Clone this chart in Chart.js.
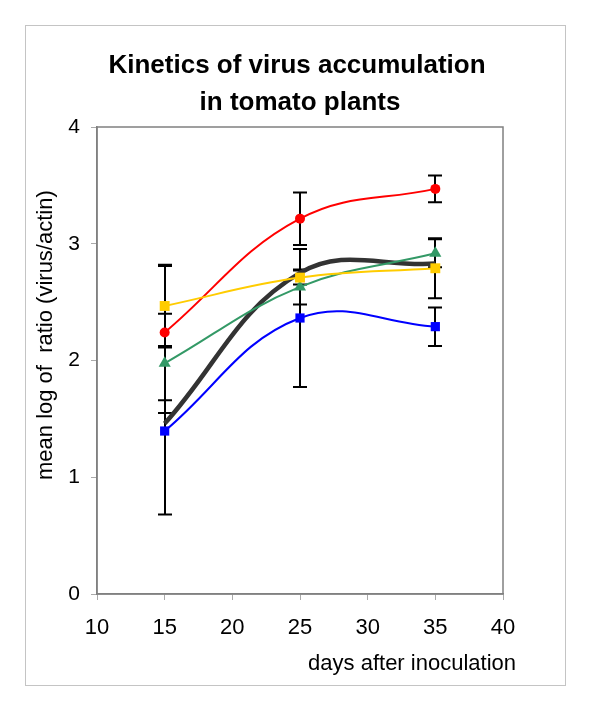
<!DOCTYPE html>
<html>
<head>
<meta charset="utf-8">
<title>Kinetics of virus accumulation</title>
<script src="https://cdn.jsdelivr.net/npm/chart.js@4.4.1/dist/chart.umd.min.js"></script>
<style>
  html, body { margin: 0; padding: 0; background: #fff; }
  #chart { display: block; }
</style>
</head>
<body>
<canvas id="chart" width="600" height="708"></canvas>
<script>
// values
const days = [15, 25, 35];
const xTicks = [10, 15, 20, 25, 30, 35, 40];
const yTicks = [0, 1, 2, 3, 4];

const redVals = [2.24, 3.215, 3.47];
const redErr = [0.58, 0.225, 0.115];
const yellowVals = [2.467, 2.71, 2.79];
const yellowErr = [0.343, 0.06, 0.257];
const greenVals = [1.976, 2.63, 2.918];
const greenErr = [0.425, 0.15, 0.12];
const blueVals = [1.396, 2.364, 2.29];
const blueErr = [0.716, 0.59, 0.165];
const meanVals = [1.46, 2.75, 2.83];

const titleLines = ['Kinetics of virus accumulation', 'in tomato plants'];
const yTitle = 'mean log of  ratio (virus/actin)';
const xTitle = 'days after inoculation';

const FONT = '"Liberation Sans", Arial, sans-serif';

function toPoints(vals) {
    return days.map((d, i) => ({ x: d, y: vals[i] }));
}

const chartDecor = {
    id: 'chartDecor',
    beforeDraw(chart) {
        const ctx = chart.ctx;
        ctx.save();
        ctx.fillStyle = '#fff';
        ctx.fillRect(0, 0, chart.width, chart.height);
        ctx.strokeStyle = '#c4c4c4';
        ctx.lineWidth = 1;
        ctx.strokeRect(25.5, 25.5, 540, 660); // outer frame
        ctx.restore();
    },
    beforeDatasetsDraw(chart) {
        const ctx = chart.ctx;
        const a = chart.chartArea;
        ctx.save();
        ctx.strokeStyle = '#808080';
        ctx.lineWidth = 1.5;
        ctx.strokeRect(a.left, a.top, a.right - a.left, a.bottom - a.top);

        // error bars
        const xs = chart.scales.x, ys = chart.scales.y;
        ctx.strokeStyle = '#000';
        ctx.lineWidth = 2;
        chart.data.datasets.forEach(ds => {
            if (!ds.errors) return;
            ds.data.forEach((p, i) => {
                const e = ds.errors[i];
                const px = Math.round(xs.getPixelForValue(p.x));
                const top = ys.getPixelForValue(p.y + e);
                const bot = ys.getPixelForValue(p.y - e);
                ctx.beginPath();
                ctx.moveTo(px, top); ctx.lineTo(px, bot);
                ctx.moveTo(px - 7, top); ctx.lineTo(px + 7, top);
                ctx.moveTo(px - 7, bot); ctx.lineTo(px + 7, bot);
                ctx.stroke();
            });
        });
        ctx.restore();
    },
    afterDraw(chart) {
        const ctx = chart.ctx;
        ctx.save();
        ctx.fillStyle = '#000';
        ctx.textBaseline = 'alphabetic';
        ctx.textAlign = 'center';
        ctx.font = 'bold 26px ' + FONT;
        ctx.fillText(titleLines[0], 297, 73);
        ctx.fillText(titleLines[1], 300, 110);

        ctx.font = '22px ' + FONT;
        ctx.textAlign = 'right';
        ctx.fillText(xTitle, 516, 670);

        ctx.translate(52, 480);
        ctx.rotate(-Math.PI / 2);
        ctx.textAlign = 'left';
        ctx.fillText(yTitle, 0, 0);
        ctx.restore();
    }
};

function series(vals, errs, color, style, radius, width) {
    return {
        data: toPoints(vals),
        errors: errs,
        borderColor: color,
        backgroundColor: color,
        borderWidth: width,
        pointStyle: style,
        pointRadius: radius,
        pointBorderWidth: 0,
        pointBackgroundColor: color,
        tension: 0.4,
        fill: false
    };
}

new Chart(document.getElementById('chart'), {
    type: 'line',
    data: {
        datasets: [
            series(yellowVals, yellowErr, '#ffcc00', 'rect', 7, 2),
            series(redVals, redErr, '#ff0000', 'circle', 5, 2),
            series(greenVals, greenErr, '#339966', 'triangle', 7, 2),
            series(blueVals, blueErr, '#0000ff', 'rect', 6.5, 2),
            series(meanVals, null, '#333333', 'circle', 0, 4.5)
        ]
    },
    options: {
        responsive: false,
        devicePixelRatio: 1,
        animation: false,
        layout: { padding: { left: 25, right: 97, top: 127, bottom: 24 } },
        plugins: {
            legend: { display: false },
            tooltip: { enabled: false },
            title: { display: false }
        },
        scales: {
            x: {
                type: 'linear',
                min: 10,
                max: 40,
                afterBuildTicks: s => { s.ticks = xTicks.map(v => ({ value: v })); },
                afterFit: s => { s.height = 90; },
                ticks: { color: '#000', font: { family: FONT, size: 22 }, padding: 15, maxRotation: 0 },
                grid: { drawOnChartArea: false, drawTicks: true, tickLength: 6, color: '#aaaaaa' },
                border: { display: true, color: '#808080', width: 1.5 }
            },
            y: {
                min: 0,
                max: 4,
                afterBuildTicks: s => { s.ticks = yTicks.map(v => ({ value: v })); },
                afterFit: s => { s.width = 72; },
                ticks: { color: '#000', font: { family: FONT, size: 21 }, padding: 11 },
                grid: { drawOnChartArea: false, drawTicks: true, tickLength: 6, color: '#aaaaaa' },
                border: { display: true, color: '#808080', width: 1.5 }
            }
        }
    },
    plugins: [chartDecor]
});
</script>
</body>
</html>
